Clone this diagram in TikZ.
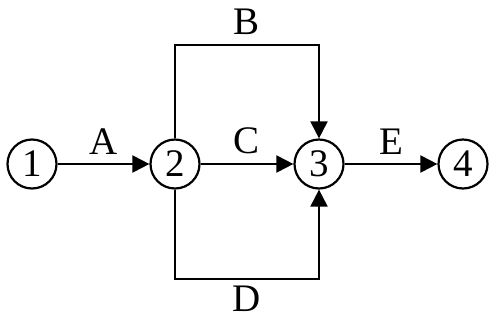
\documentclass[tikz,border=0pt]{standalone}
\usepackage{fontspec}
\setmainfont{Liberation Serif}
\usetikzlibrary{arrows.meta}

\begin{document}
\begin{tikzpicture}[x=1pt,y=-1pt,
		event/.style={draw, circle, line width=2.2pt, minimum size=49pt, inner sep=0pt},
		arr/.style={line width=2pt, -{Triangle[length=17pt,width=17pt]}},
		lbl/.style={inner sep=1pt},
		every node/.style={font=\fontsize{39}{44}\selectfont}]
		\useasboundingbox (0,0) rectangle (489,322);

		% Define events
		\node[event] (n1) at (32,164) {1};
		\node[event] (n2) at (175,164) {2};
		\node[event] (n3) at (319,164) {3};
		\node[event] (n4) at (463,164) {4};

		% Corners of the outer paths
		\coordinate (tb) at (247,45);
		\coordinate (bd) at (247,279);

		% Draw the activities
		\draw[arr] (n1) -- node[lbl, above=8pt] {A} (n2);
		\draw[arr] (n2) -- node[lbl, above=8pt] {C} (n3);
		\draw[arr] (n3) -- node[lbl, above=8pt] {E} (n4);
		\draw[arr] (n2.north) |- (tb) node[lbl, above=8pt] {B} -| (n3.north);
		\draw[arr] (n2.south) |- (bd) node[lbl, below=5pt] {D} -| (n3.south);
	\end{tikzpicture}
\end{document}
